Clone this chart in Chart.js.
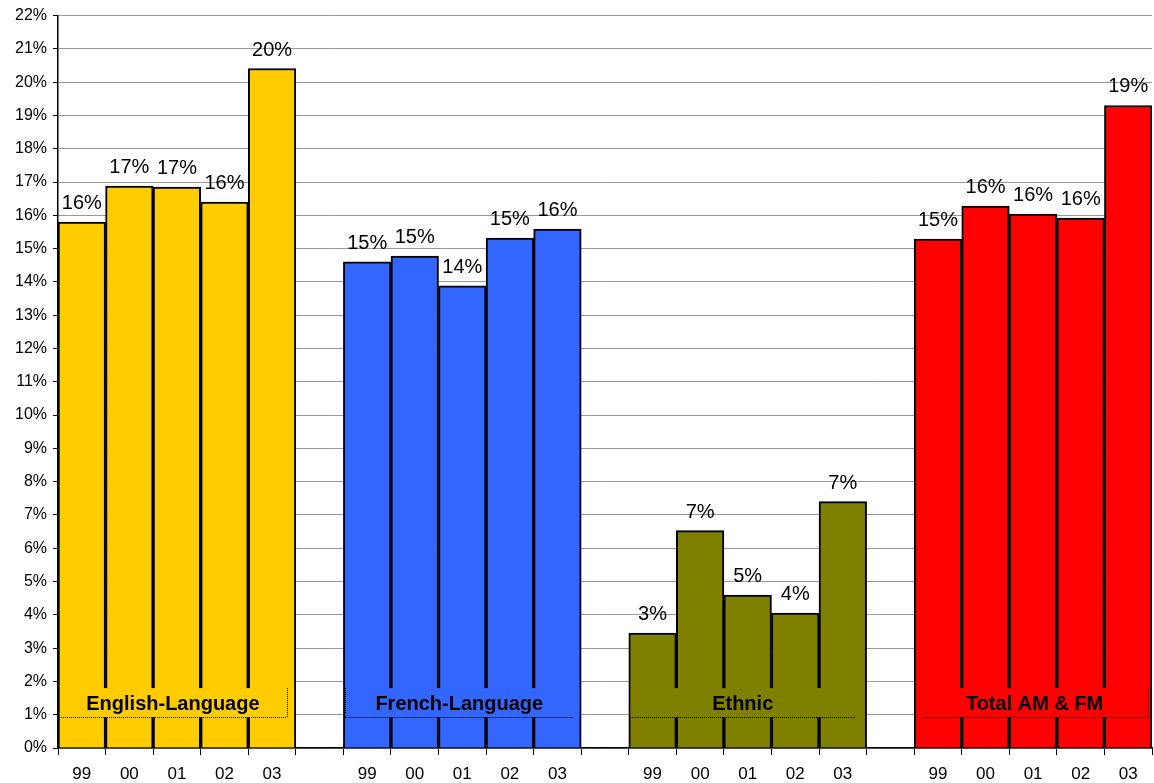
<!DOCTYPE html>
<html>
<head>
<meta charset="utf-8">
<script src="https://cdn.jsdelivr.net/npm/chart.js@4/dist/chart.umd.min.js"></script>
<style>
  html, body { margin: 0; padding: 0; background: #fff; }
  #wrap { width: 1154px; height: 783px; }
</style>
</head>
<body>
<div id="wrap"><canvas id="chart"></canvas></div>
<script>
// Share values (%) by year, one array per format group
const years = ["99", "00", "01", "02", "03"];
const groupNames = ["English-Language", "French-Language", "Ethnic", "Total AM & FM"];
const english = [15.8, 16.88, 16.85, 16.4, 20.41];
const french = [14.6, 14.78, 13.88, 15.32, 15.59];
const ethnic = [3.45, 6.53, 4.59, 4.05, 7.4];
const total = [15.29, 16.28, 16.04, 15.92, 19.3];
const groupColors = ["#FFCC00", "#3366FF", "#808000", "#FF0000"];
const yTicks = [0, 22];

const FONT = "'Liberation Sans', Arial, sans-serif";
const groups = [english, french, ethnic, total];

// flatten the groups into one category axis, with an empty slot between groups
const labels = [];
const values = [];
const colors = [];
groups.forEach((g, gi) => {
    g.forEach((v, i) => {
        labels.push(years[i]);
        values.push(v);
        colors.push(groupColors[gi]);
    });
    if (gi < groups.length - 1) {
        labels.push("");
        values.push(null);
        colors.push("transparent");
    }
});

// rounded percentage above each bar
const valueLabels = {
    id: "valueLabels",
    afterDatasetsDraw(chart) {
        const ctx = chart.ctx;
        const meta = chart.getDatasetMeta(0);
        ctx.save();
        ctx.font = "20px " + FONT;
        ctx.fillStyle = "#000";
        ctx.textAlign = "center";
        ctx.textBaseline = "alphabetic";
        meta.data.forEach((bar, i) => {
            const v = values[i];
            if (v === null) return;
            ctx.fillText(Math.round(v) + "%", bar.x, bar.y - 13);
        });
        ctx.restore();
    }
};

// group name boxes drawn inside the bars near the baseline
const groupBoxes = {
    id: "groupBoxes",
    afterDatasetsDraw(chart) {
        const ctx = chart.ctx;
        const meta = chart.getDatasetMeta(0);
        const y = chart.scales.y;
        const top = y.getPixelForValue(1.8);
        const bottom = y.getPixelForValue(0.93);
        const sides = [[false, true], [true, false], [false, false], [false, true]];
        const insets = [[1, 9], [2, 8], [1, 11], [7, 4]];
        ctx.save();
        groups.forEach((g, gi) => {
            const first = meta.data[gi * 6];
            const last = meta.data[gi * 6 + 4];
            const gl = first.x - first.width / 2;
            const gr = last.x + last.width / 2;
            ctx.fillStyle = groupColors[gi];
            ctx.fillRect(gl + 2, top, gr - gl - 4, bottom - top);
            const bl = gl + insets[gi][0];
            const br = gr - insets[gi][1];
            ctx.strokeStyle = "#000";
            ctx.lineWidth = 1;
            ctx.setLineDash([1, 1]);
            ctx.beginPath();
            ctx.moveTo(bl, Math.round(bottom) + 0.5);
            ctx.lineTo(br, Math.round(bottom) + 0.5);
            if (sides[gi][0]) {
                ctx.moveTo(Math.round(bl) + 0.5, top);
                ctx.lineTo(Math.round(bl) + 0.5, bottom);
            }
            if (sides[gi][1]) {
                ctx.moveTo(Math.round(br) + 0.5, top);
                ctx.lineTo(Math.round(br) + 0.5, bottom);
            }
            ctx.stroke();
            ctx.setLineDash([]);
            ctx.font = "bold 20px " + FONT;
            ctx.fillStyle = "#000";
            ctx.textAlign = "center";
            ctx.textBaseline = "middle";
            ctx.fillText(groupNames[gi], (bl + br) / 2, (top + bottom) / 2 + 2);
        });
        ctx.restore();
    }
};

new Chart(document.getElementById("chart"), {
    type: "bar",
    data: {
        labels: labels,
        datasets: [{
            data: values,
            backgroundColor: colors,
            borderColor: "#000",
            borderWidth: 2,
            borderSkipped: "bottom",
            barPercentage: 1,
            categoryPercentage: 1
        }]
    },
    options: {
        responsive: true,
        maintainAspectRatio: false,
        animation: false,
        layout: { padding: { top: 6, right: 2, left: 0, bottom: 0 } },
        plugins: {
            legend: { display: false },
            tooltip: { enabled: false }
        },
        scales: {
            x: {
                offset: true,
                border: { color: "#000", width: 1.5 },
                grid: {
                    offset: true,
                    drawOnChartArea: false,
                    drawTicks: true,
                    tickLength: 7,
                    tickColor: "#000"
                },
                ticks: {
                    color: "#000",
                    font: { family: FONT, size: 17 },
                    padding: 9,
                    maxRotation: 0,
                    autoSkip: false
                },
                afterFit(scale) { scale.height = 35; }
            },
            y: {
                min: yTicks[0],
                max: yTicks[1],
                border: { color: "#000", width: 1.5 },
                grid: {
                    color: "#999999",
                    lineWidth: 1,
                    tickLength: 5,
                    tickColor: "#000"
                },
                ticks: {
                    stepSize: 1,
                    color: "#000",
                    font: { family: FONT, size: 16 },
                    padding: 6,
                    callback: v => v + "%"
                },
                afterFit(scale) { scale.width = 58; }
            }
        }
    },
    plugins: [valueLabels, groupBoxes]
});
</script>
</body>
</html>
